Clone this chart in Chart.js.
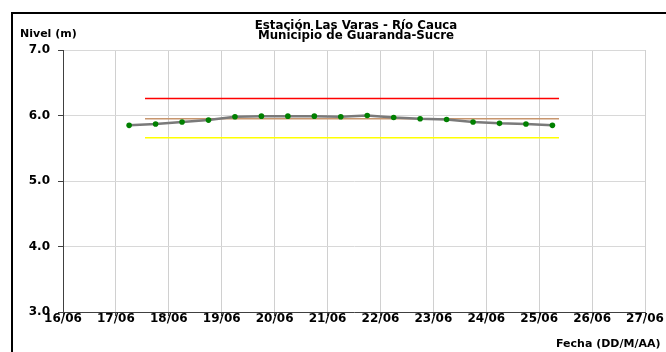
<!DOCTYPE html>
<html>
<head>
<meta charset="utf-8">
<script src="https://cdn.jsdelivr.net/npm/chart.js@4.4.1/dist/chart.umd.min.js"></script>
<style>
  html, body { margin: 0; padding: 0; background: #fff; }
  #grafico { display: block; }
</style>
</head>
<body>
<canvas id="grafico" width="666" height="352"></canvas>
<script>
// etiquetas del eje x (dias)
const etiquetasFecha = ['16/06','17/06','18/06','19/06','20/06','21/06','22/06','23/06','24/06','25/06','26/06','27/06'];

// lecturas del nivel (cada 12 h, desde 17/06 06:00)
const fechasLectura = ['17/06 06:00','17/06 18:00','18/06 06:00','18/06 18:00','19/06 06:00','19/06 18:00',
  '20/06 06:00','20/06 18:00','21/06 06:00','21/06 18:00','22/06 06:00','22/06 18:00',
  '23/06 06:00','23/06 18:00','24/06 06:00','24/06 18:00','25/06 06:00'];
const nivel = [5.85, 5.87, 5.90, 5.93, 5.98, 5.99, 5.99, 5.99, 5.98, 6.00, 5.97, 5.95, 5.94, 5.90, 5.88, 5.87, 5.85];

// umbrales
const umbralFechas = ['17/06 13:12', '25/06 09:00'];
const umbralRojo = 6.26;
const umbralNaranja = 5.95;
const umbralAmarillo = 5.66;

// convierte 'DD/MM HH:MM' a dias desde 16/06
function aDias(s){
    let partes = s.split(' ');
    let dia = parseInt(partes[0].split('/')[0]);
    let hm = partes[1].split(':');
    return (dia - 16) + (parseInt(hm[0]) + parseInt(hm[1])/60) / 24;
}

function lineaUmbral(valor, color){
    return {
        data: umbralFechas.map(f => ({x: aDias(f), y: valor})),
        borderColor: color,
        borderWidth: 1.5,
        pointRadius: 0,
        order: 2
    }
}

const fuente = 'DejaVu Sans';

const textos = {
    id: 'textos',
    afterDraw(chart){
        let ctx = chart.ctx;
        ctx.save();
        ctx.fillStyle = '#000';
        ctx.fillRect(11, 12, 655, 2);
        ctx.fillRect(11, 12, 2, 340);
        ctx.textBaseline = 'alphabetic';
        ctx.font = 'bold 11.8px "' + fuente + '"';
        ctx.textAlign = 'center';
        ctx.fillText('Estación Las Varas - Río Cauca', 356, 29);
        ctx.fillText('Municipio de Guaranda-Sucre', 356, 39);
        ctx.font = 'bold 11px "' + fuente + '"';
        ctx.textAlign = 'left';
        ctx.fillText('Nivel (m)', 20, 37);
        ctx.fillText('Fecha (DD/M/AA)', 556, 347);
        ctx.restore();
    }
};

const datos = {
    datasets: [
        {
            data: fechasLectura.map((f, i) => ({x: aDias(f), y: nivel[i]})),
            borderColor: '#7a7a7a',
            borderWidth: 2.5,
            pointRadius: 2.8,
            pointBackgroundColor: '#008000',
            pointBorderColor: '#008000',
            pointBorderWidth: 0,
            order: 1
        },
        lineaUmbral(umbralRojo, '#ff0000'),
        lineaUmbral(umbralNaranja, '#c8966e'),
        lineaUmbral(umbralAmarillo, '#ffff00')
    ]
};

const config = {
    type: 'line',
    data: datos,
    options: {
        responsive: false,
        animation: false,
        devicePixelRatio: 1,
        layout: { padding: { left: 0, top: 50, right: 21, bottom: 0 } },
        plugins: { legend: { display: false }, tooltip: { enabled: false } },
        scales: {
            x: {
                type: 'linear',
                min: 0,
                max: 11,
                afterFit(s){ s.height = 40; },
                afterBuildTicks(s){ s.ticks = etiquetasFecha.map((e, i) => ({value: i})); },
                grid: { color: '#d0d0d0', tickColor: '#404040', tickLength: 4 },
                border: { color: '#404040' },
                ticks: {
                    callback: v => etiquetasFecha[v],
                    color: '#000',
                    padding: -3,
                    maxRotation: 0,
                    autoSkip: false,
                    font: { family: fuente, size: 12, weight: 'bold', lineHeight: 1 }
                }
            },
            y: {
                min: 3,
                max: 7,
                afterFit(s){ s.width = 63; },
                grid: { color: '#d8d8d8', tickColor: '#404040', tickLength: 5 },
                border: { color: '#404040' },
                ticks: {
                    stepSize: 1,
                    callback: v => v.toFixed(1),
                    color: '#000',
                    padding: 8,
                    font: { family: fuente, size: 12, weight: 'bold' }
                }
            }
        }
    },
    plugins: [textos]
};

let c = document.getElementById('grafico').getContext('2d');
new Chart(c, config);
</script>
</body>
</html>
